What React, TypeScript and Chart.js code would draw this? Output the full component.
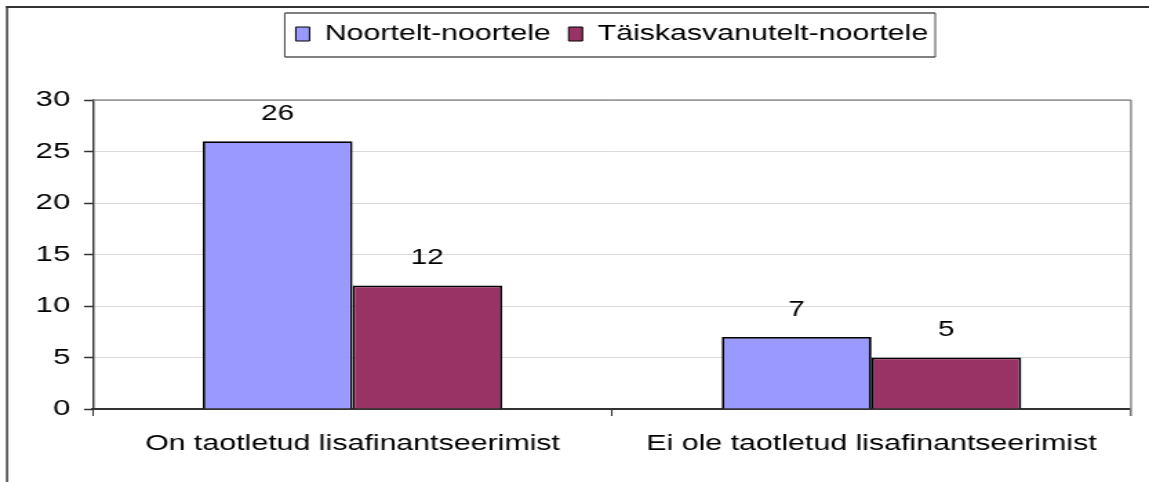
import React, { useEffect, useRef } from "react";
import { Chart, registerables } from "chart.js";

Chart.register(...registerables);

const categories = ["On taotletud lisafinantseerimist", "Ei ole taotletud lisafinantseerimist"];
const seriesNames = ["Noortelt-noortele", "Täiskasvanutelt-noortele"];
const noorteltValues = [26, 7];
const taiskasvanuteltValues = [12, 5];
const yMin = 0;
const yMax = 30;
const yStep = 5;

const FONT = "'Liberation Sans', Arial, Helvetica, sans-serif";

// The reference picture is horizontally stretched; draw on a narrower canvas and stretch it with CSS.
const DISPLAY_W = 1149;
const DISPLAY_H = 482;
const LOGICAL_W = 833;
const S = DISPLAY_W / LOGICAL_W;

const framePlugin = {
  id: "framePlugin",
  beforeDraw(chart: any) {
    const ctx = chart.ctx;
    ctx.save();
    ctx.fillStyle = "#ffffff";
    ctx.fillRect(0, 0, chart.width, chart.height);
    ctx.strokeStyle = "#333333";
    ctx.lineWidth = 2;
    ctx.beginPath();
    ctx.moveTo(6 / S, 7);
    ctx.lineTo(chart.width, 7);
    ctx.stroke();
    ctx.lineWidth = 2 / S;
    ctx.beginPath();
    ctx.moveTo(7 / S, 6);
    ctx.lineTo(7 / S, chart.height);
    ctx.stroke();
    ctx.restore();
  },
  beforeLayout(chart: any) {
    const lg = chart.legend;
    if (lg && !lg.__patched) {
      const orig = lg.fit.bind(lg);
      lg.fit = () => {
        orig();
        lg.height += 45;
      };
      lg.__patched = true;
    }
  },
  afterDraw(chart: any) {
    const ctx = chart.ctx;
    const a = chart.chartArea;
    ctx.save();
    ctx.strokeStyle = "#999999";
    ctx.lineWidth = 1.5;
    ctx.beginPath();
    ctx.moveTo(a.left, a.top);
    ctx.lineTo(a.right, a.top);
    ctx.stroke();
    ctx.strokeStyle = "#888888";
    ctx.lineWidth = 2 / S;
    ctx.beginPath();
    ctx.moveTo(a.right, a.top);
    ctx.lineTo(a.right, a.bottom + 7);
    ctx.stroke();
    const lg = chart.legend;
    if (lg && lg.legendHitBoxes && lg.legendHitBoxes.length) {
      const hb = lg.legendHitBoxes;
      const first = hb[0];
      const last = hb[hb.length - 1];
      const cy = first.top + first.height / 2;
      const left = first.left - 11 / S;
      const right = last.left + last.width + 7 / S;
      ctx.strokeStyle = "#555555";
      ctx.lineWidth = 1.5;
      ctx.beginPath();
      ctx.moveTo(left, cy - 21);
      ctx.lineTo(right, cy - 21);
      ctx.moveTo(left, cy + 23);
      ctx.lineTo(right, cy + 23);
      ctx.stroke();
      ctx.lineWidth = 1.5 / S;
      ctx.beginPath();
      ctx.moveTo(left, cy - 21);
      ctx.lineTo(left, cy + 23);
      ctx.moveTo(right, cy - 21);
      ctx.lineTo(right, cy + 23);
      ctx.stroke();
    }
    ctx.restore();
  },
};

const valueLabelPlugin = {
  id: "valueLabelPlugin",
  afterDatasetsDraw(chart: any) {
    const ctx = chart.ctx;
    ctx.save();
    ctx.font = `21.5px ${FONT}`;
    ctx.fillStyle = "#000000";
    ctx.textAlign = "center";
    ctx.textBaseline = "middle";
    chart.data.datasets.forEach((ds: any, di: number) => {
      const meta = chart.getDatasetMeta(di);
      meta.data.forEach((el: any, i: number) => {
        ctx.fillText(String(ds.data[i]), el.x, el.y - 27);
      });
    });
    ctx.restore();
  },
};

export default function App() {
  const canvasRef = useRef<HTMLCanvasElement | null>(null);

  useEffect(() => {
    if (!canvasRef.current) return;
    const chart = new Chart(canvasRef.current, {
      type: "bar",
      data: {
        labels: categories,
        datasets: [
          {
            label: seriesNames[0],
            data: noorteltValues,
            backgroundColor: "#9999FF",
            borderColor: "#000000",
            borderWidth: 1.8,
            categoryPercentage: 0.577,
            barPercentage: 1,
          },
          {
            label: seriesNames[1],
            data: taiskasvanuteltValues,
            backgroundColor: "#993366",
            borderColor: "#000000",
            borderWidth: 1.8,
            categoryPercentage: 0.577,
            barPercentage: 1,
          },
        ],
      },
      options: {
        responsive: false,
        animation: false,
        devicePixelRatio: 1,
        layout: { padding: { top: 10, left: 0, right: LOGICAL_W - 1131 / S, bottom: 0 } },
        plugins: {
          tooltip: { enabled: false },
          legend: {
            display: true,
            position: "top",
            fullSize: false,
            labels: {
              font: { family: FONT, size: 22 },
              color: "#000000",
              boxWidth: 10,
              boxHeight: 14,
              padding: 13,
              generateLabels: (chart: any) => {
                const items = Chart.defaults.plugins.legend.labels.generateLabels(chart);
                return items.map((it: any) => ({ ...it, lineWidth: 1, strokeStyle: "#000000" }));
              },
            },
          },
        },
        scales: {
          x: {
            offset: true,
            afterFit: (scale: any) => {
              scale.height = 73;
            },
            grid: {
              display: true,
              offset: true,
              drawOnChartArea: false,
              drawTicks: true,
              tickLength: 7,
              tickColor: "#333333",
              tickWidth: 1.5 / S,
            },
            border: { display: true, color: "#333333", width: 2 },
            ticks: {
              font: { family: FONT, size: 22 },
              color: "#000000",
              padding: 15,
              maxRotation: 0,
            },
          },
          y: {
            min: yMin,
            max: yMax,
            afterFit: (scale: any) => {
              scale.width = 93 / S;
            },
            grid: {
              color: (c: any) => (c.tick && c.tick.value === yMax ? "#999999" : "#d9d9d9"),
              lineWidth: 1,
              tickLength: 9 / S,
              tickColor: "#333333",
              tickWidth: 1.5,
            },
            border: { display: true, color: "#333333", width: 2 / S },
            ticks: {
              stepSize: yStep,
              font: { family: FONT, size: 22.5 },
              color: "#000000",
              padding: 10,
            },
          },
        },
      },
      plugins: [framePlugin, valueLabelPlugin],
    });
    return () => chart.destroy();
  }, []);

  return (
    <div style={{ position: "absolute", left: 0, top: 0, width: DISPLAY_W, height: DISPLAY_H }}>
      <canvas
        ref={canvasRef}
        width={LOGICAL_W}
        height={DISPLAY_H}
        style={{ display: "block", width: DISPLAY_W + "px", height: DISPLAY_H + "px" }}
      />
    </div>
  );
}
